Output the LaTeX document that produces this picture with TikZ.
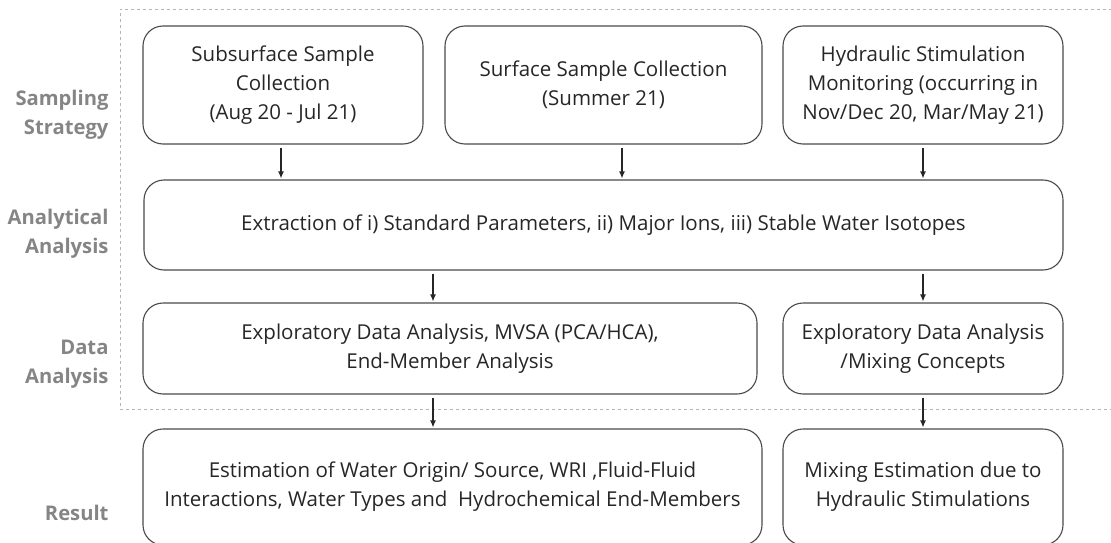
\documentclass[tikz,border=0pt]{standalone}
\usepackage{fontspec}
\setmainfont{Open Sans}
\usetikzlibrary{arrows.meta}
\definecolor{boxline}{HTML}{4A4A4A}
\definecolor{boxtext}{HTML}{262626}
\definecolor{labgray}{HTML}{858585}
\definecolor{framegray}{HTML}{B4B4B4}
\tikzset{
  stage/.style={draw=boxline, line width=1.1pt, rounded corners=20pt, align=center,
    text=boxtext, inner sep=0pt,
    font=\fontsize{20.5}{29}\selectfont},
  lab/.style={anchor=east, align=right, text=labgray,
    font=\fontsize{20.2}{28.5}\selectfont\bfseries},
  flow/.style={line width=1.2pt, draw=black!85, -{Latex[length=7pt,width=6pt]},
    shorten <=3pt, shorten >=1pt},
  frame/.style={draw=framegray, line width=0.8pt, dash pattern=on 3pt off 3pt}
}
\begin{document}
\begin{tikzpicture}[x=1pt,y=-1pt]
\useasboundingbox (0,0) rectangle (1111,543);

% dashed frame around the first three phases
\draw[frame] (1130,9) -- (120,9) -- (120,409) -- (1130,409);

% phase labels
\node[lab] (lsamp) at (112,115) {Sampling\\Strategy};
\node[lab] (lana)  at (112,234) {Analytical\\Analysis};
\node[lab] (ldata) at (112,364) {Data\\Analysis};
\node[lab] (lres)  at (112,513) {Result};

% sampling
\node[stage, minimum width=280pt, minimum height=118pt] (b1) at (283,85)
  {Subsurface Sample\\Collection\\(Aug 20 - Jul 21)};
\node[stage, minimum width=317pt, minimum height=118pt] (b2) at (603.5,85)
  {Surface Sample Collection\\(Summer 21)};
\node[stage, minimum width=280pt, minimum height=118pt] (b3) at (923,85)
  {Hydraulic Stimulation\\Monitoring (occurring in\\Nov/Dec 20, Mar/May 21)};

% analytical
\node[stage, minimum width=919pt, minimum height=90pt] (ext) at (603.5,225)
  {Extraction of i) Standard Parameters, ii) Major Ions, iii) Stable Water Isotopes};

% data analysis
\node[stage, minimum width=614pt, minimum height=91pt] (d1) at (450,348.5)
  {Exploratory Data Analysis, MVSA (PCA/HCA),\\End-Member Analysis};
\node[stage, minimum width=280pt, minimum height=91pt] (d2) at (923,348.5)
  {Exploratory Data Analysis\\/Mixing Concepts};

% results
\node[stage, minimum width=619pt, minimum height=116pt] (r1) at (452.5,487)
  {Estimation of Water Origin/ Source, WRI ,Fluid-Fluid\\Interactions, Water Types and \ Hydrochemical End-Members};
\node[stage, minimum width=280pt, minimum height=116pt] (r2) at (923,487)
  {Mixing Estimation due to\\Hydraulic Stimulations};

% connectors
\draw[flow] ([xshift=-2pt]b1.south) -- ([xshift=-2pt]b1.south |- ext.north);
\draw[flow] ([xshift=18.5pt]b2.south) -- ([xshift=18.5pt]b2.south |- ext.north);
\draw[flow] (b3.south) -- (b3.south |- ext.north);
\draw[flow] ([xshift=-17pt]d1.north |- ext.south) -- ([xshift=-17pt]d1.north);
\draw[flow] (d2.north |- ext.south) -- (d2.north);
\draw[flow] ([xshift=-17pt]d1.south) -- ([xshift=-17pt]d1.south |- r1.north);
\draw[flow] (d2.south) -- (r2.north);
\end{tikzpicture}
\end{document}
